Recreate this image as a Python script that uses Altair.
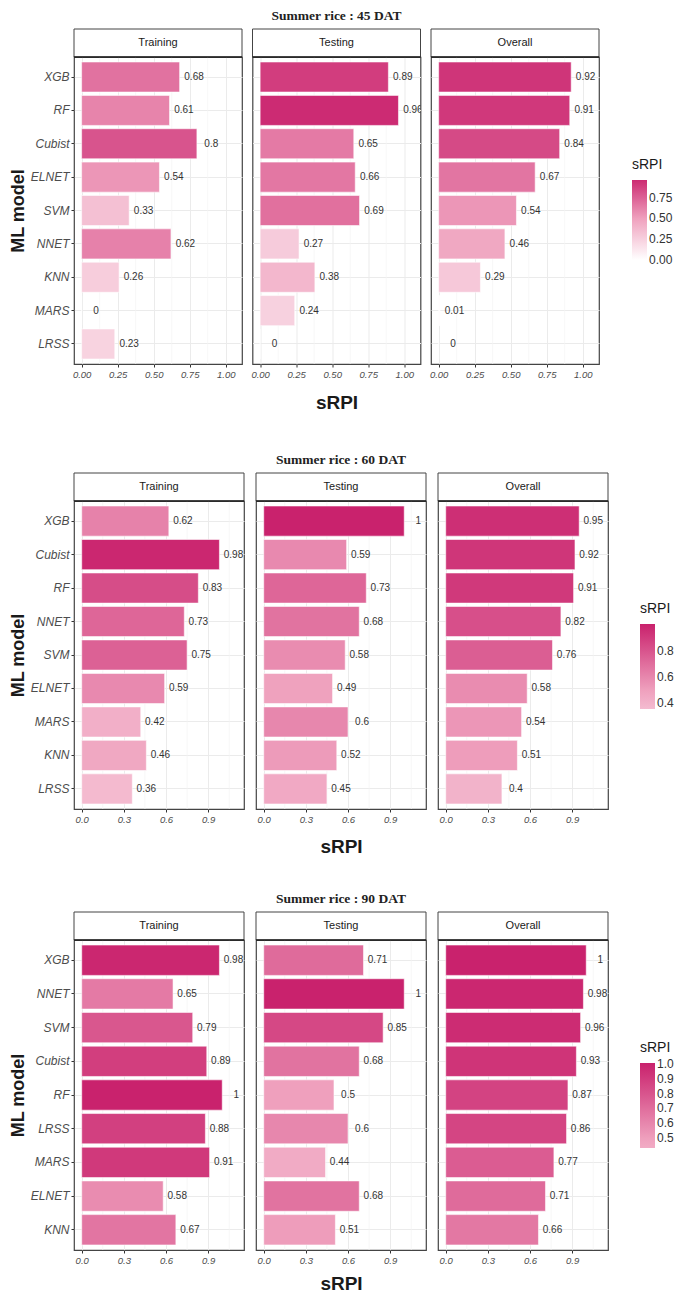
import altair as alt
import pandas as pd

panels = ["Training", "Testing", "Overall"]
titles = ["Summer rice : 45 DAT", "Summer rice : 60 DAT", "Summer rice : 90 DAT"]

# ---- 45 DAT ----
models_45 = ["XGB", "RF", "Cubist", "ELNET", "SVM", "NNET", "KNN", "MARS", "LRSS"]
train_45 = [0.68, 0.61, 0.8, 0.54, 0.33, 0.62, 0.26, 0, 0.23]
test_45 = [0.89, 0.96, 0.65, 0.66, 0.69, 0.27, 0.38, 0.24, 0]
overall_45 = [0.92, 0.91, 0.84, 0.67, 0.54, 0.46, 0.29, 0.01, 0]
ticks_45 = [0, 0.25, 0.5, 0.75, 1.0]
minor_45 = [0.125, 0.375, 0.625, 0.875]
legend_45 = [0, 0.25, 0.5, 0.75]

# ---- 60 DAT ----
models_60 = ["XGB", "Cubist", "RF", "NNET", "SVM", "ELNET", "MARS", "KNN", "LRSS"]
train_60 = [0.62, 0.98, 0.83, 0.73, 0.75, 0.59, 0.42, 0.46, 0.36]
test_60 = [1, 0.59, 0.73, 0.68, 0.58, 0.49, 0.6, 0.52, 0.45]
overall_60 = [0.95, 0.92, 0.91, 0.82, 0.76, 0.58, 0.54, 0.51, 0.4]
ticks_60 = [0, 0.3, 0.6, 0.9]
minor_60 = [0.15, 0.45, 0.75, 1.05]
legend_60 = [0.4, 0.6, 0.8]

# ---- 90 DAT ----
models_90 = ["XGB", "NNET", "SVM", "Cubist", "RF", "LRSS", "MARS", "ELNET", "KNN"]
train_90 = [0.98, 0.65, 0.79, 0.89, 1, 0.88, 0.91, 0.58, 0.67]
test_90 = [0.71, 1, 0.85, 0.68, 0.5, 0.6, 0.44, 0.68, 0.51]
overall_90 = [1, 0.98, 0.96, 0.93, 0.87, 0.86, 0.77, 0.71, 0.66]
ticks_90 = [0, 0.3, 0.6, 0.9]
minor_90 = [0.15, 0.45, 0.75, 1.05]
legend_90 = [0.5, 0.6, 0.7, 0.8, 0.9, 1.0]

NUDGE = 0.1
EPS = 0.004
SANS = "Liberation Sans"
SERIF = "Liberation Serif"

# colour ramp (white -> pink -> deep magenta)
LOW = (255, 255, 255)
MID = (239, 160, 189)
HIGH = (201, 33, 108)


def ramp(v):
    v = max(0.0, min(1.0, v))
    if v <= 0.5:
        t, a, b = v / 0.5, LOW, MID
    else:
        t, a, b = (v - 0.5) / 0.5, MID, HIGH
    return "#%02x%02x%02x" % tuple(int(round(a[i] + (b[i] - a[i]) * t)) for i in range(3))


blocks = [
    dict(models=models_45, vals=[train_45, test_45, overall_45], ticks=ticks_45,
         minor=minor_45, leg=legend_45, fmt=".2f", xdom=[-0.053, 1.113],
         W=168, H=307, sp=10.5, lx=558, ly=101, glen=80, ty=38),
    dict(models=models_60, vals=[train_60, test_60, overall_60], ticks=ticks_60,
         minor=minor_60, leg=legend_60, fmt=".1f", xdom=[-0.055, 1.155],
         W=170, H=308, sp=12, lx=566, ly=101, glen=85, ty=37),
    dict(models=models_90, vals=[train_90, test_90, overall_90], ticks=ticks_90,
         minor=minor_90, leg=legend_90, fmt=".1f", xdom=[-0.055, 1.155],
         W=170, H=310, sp=12, lx=566, ly=101, glen=85, ty=33),
]


def make_panel(b, k, bi):
    W, H = b["W"], b["H"]
    models = b["models"]
    vals = b["vals"][k]
    df = pd.DataFrame({"model": models, "v": vals})
    allv = [x for s in b["vals"] for x in s]
    lo, hi = min(allv) - EPS, max(allv) + EPS

    xs = alt.Scale(domain=b["xdom"], nice=False, zero=False)
    ys = alt.Scale(domain=models, paddingInner=0.1, paddingOuter=0.15)
    cs = alt.Scale(domain=[lo, 0.5, hi], range=[ramp(lo), ramp(0.5), ramp(hi)],
                   interpolate="rgb")

    xaxis = alt.Axis(values=b["ticks"], format=b["fmt"], labelFontStyle="italic",
                     labelFontSize=9.5, labelColor="#4d4d4d", labelPadding=2,
                     labelFlush=False, labelOverlap=False, labelFont=SANS,
                     tickColor="#333333", tickSize=3, tickWidth=1, domain=False,
                     grid=True, gridColor="#EBEBEB", gridWidth=1,
                     title="sRPI" if k == 1 else "", titleFontSize=19,
                     titleFontWeight="bold", titleColor="#1a1a1a", titleFont=SANS,
                     titleY=b["ty"], titleBaseline="middle")
    if k == 0:
        yaxis = alt.Axis(labelFontStyle="italic", labelFontSize=12, labelColor="#4d4d4d",
                         labelPadding=2, labelFont=SANS, tickColor="#333333", tickSize=3,
                         tickWidth=1, domain=False, grid=True, gridColor="#EBEBEB",
                         title="ML model", titleFontSize=18, titleFontWeight="bold",
                         titleColor="#1a1a1a", titleFont=SANS, titleX=-56, titleY=H / 2,
                         titleAngle=270, titleAlign="center", titleBaseline="middle")
    else:
        yaxis = alt.Axis(labels=False, ticks=False, domain=False, grid=True,
                         gridColor="#EBEBEB", title="")

    legend = alt.Legend(orient="none", legendX=b["lx"], legendY=b["ly"], title="sRPI",
                        titleFontSize=14, titleFontWeight="normal", titleColor="#1a1a1a",
                        titleFont=SANS, titlePadding=8, labelFontSize=12, labelFont=SANS,
                        labelColor="#333333", labelBaseline="middle",
                        gradientLength=b["glen"],
                        gradientThickness=15, gradientStrokeWidth=0, values=b["leg"],
                        format=b["fmt"], direction="vertical", labelOverlap=False)

    base = alt.Chart(df)
    minor = alt.Chart(pd.DataFrame({"m": b["minor"]})).mark_rule(
        color="#F3F3F3", strokeWidth=0.7).encode(x=alt.X("m:Q", scale=xs, axis=xaxis))
    bars = base.mark_bar(stroke="white", strokeWidth=0.8, strokeOpacity=0.7).encode(
        x=alt.X("v:Q", scale=xs, axis=xaxis),
        x2=alt.datum(0),
        y=alt.Y("model:N", scale=ys, axis=yaxis),
        color=alt.Color("v:Q", scale=cs, legend=legend),
    )
    labels = base.transform_calculate(lx="datum.v + %g" % NUDGE).mark_text(
        fontSize=10, color="#333333", font=SANS, align="center", baseline="middle",
        clip=True).encode(
        x=alt.X("lx:Q", scale=xs),
        y=alt.Y("model:N", scale=ys),
        text=alt.Text("v:Q", format="~g"),
    )
    sdf = pd.DataFrame({"p": [panels[k]], "t": [titles[bi]]})
    srect = alt.Chart(sdf).mark_rect(fill="white", stroke="#444444", strokeWidth=1).encode(
        x=alt.value(0), x2=alt.value(W), y=alt.value(-28), y2=alt.value(0))
    sline = alt.Chart(sdf).mark_rule(color="#222222", strokeWidth=1.6).encode(
        x=alt.value(0), x2=alt.value(W), y=alt.value(0))
    stext = alt.Chart(sdf).mark_text(fontSize=11, color="#1a1a1a", font=SANS,
                                     baseline="middle", align="center").encode(
        x=alt.value(W / 2), y=alt.value(-14), text="p:N")
    layers = [minor, bars, labels, srect, sline, stext]
    if k == 1:
        ttl = alt.Chart(sdf).mark_text(fontSize=13.5, fontWeight="bold", font=SERIF,
                                       color="#222222", baseline="middle",
                                       align="center").encode(
            x=alt.value(W / 2), y=alt.value(-41), text="t:N")
        layers.append(ttl)
    return alt.layer(*layers).properties(
        width=W, height=H,
        view=alt.ViewBackground(stroke="#444444", strokeWidth=1.2))


def make_block(bi):
    b = blocks[bi]
    return alt.hconcat(*[make_panel(b, k, bi) for k in range(3)],
                       spacing=b["sp"], bounds="flush")


b1, b2, b3 = [make_block(i) for i in range(3)]
top12 = alt.vconcat(b1, b2, spacing=39).resolve_scale(color="independent")
chart = alt.vconcat(top12, b3, spacing=34).resolve_scale(
    color="independent").properties(padding=0).configure(font=SANS)

chart.save("out.html", embed_options={"renderer": "svg", "actions": False})
